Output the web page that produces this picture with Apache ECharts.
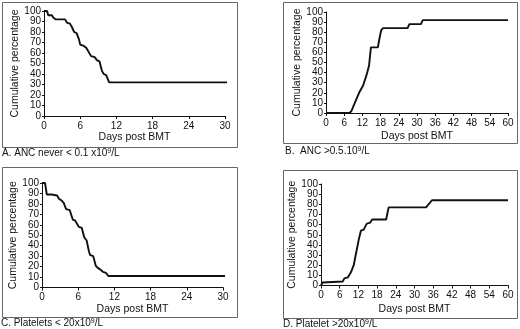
<!DOCTYPE html>
<html>
<head>
<meta charset="utf-8">
<script src="https://cdn.jsdelivr.net/npm/echarts@6/dist/echarts.min.js"></script>
<style>
html,body{margin:0;padding:0;background:#fff;}
#main{width:520px;height:329px;}
</style>
</head>
<body>
<div id="main"></div>
<script>
// curve vertices (days post BMT, cumulative %)
var daysA=[0,0.5,0.7,1.3,1.5,1.9,3.5,3.8,4.3,4.6,5.0,5.4,5.8,6.0,6.5,7.0,7.3,7.8,8.4,8.8,9.2,9.6,9.9,10.3,10.8,30.5];
var pctA =[100,100,96,96,94,92,92,89,88,85,80,79,73,68,67,65,64,57,56,53,52,43,40,39,32,32];

var daysB=[0,7.8,8.4,9.5,10.9,12.2,13.3,14.2,14.8,17.1,17.7,18.2,18.8,26.9,27.5,31.3,31.9,60];
var pctB =[0,0,2,10,20,27,37,47,65,65,75,82,84,84,88,88,92,92];

var daysC=[0,0.5,0.8,1.6,2.5,2.8,3.3,3.6,4.0,4.6,5.1,5.5,5.8,6.1,6.6,7.0,7.4,7.8,8.0,8.5,8.9,9.2,9.7,10.1,10.6,11.0,30.5];
var pctC =[100,100,89,89,88,85,83,81,75,74,65,64,61,58,57,48,45,34,31,30,21,19,17,15,14,11,11];

var daysD=[0,0.5,1.1,7.0,7.5,8.6,9.6,10.5,11.2,12.1,12.8,13.7,14.7,15.8,16.4,20.9,21.7,33.7,35.6,60];
var pctD =[0,3,4,4,7,8,13,20,31,45,54,55,61,62,65,65,77,77,84,84];

var xMaxShort=30, xMaxLong=60, xStep=6;
var yTitle='Cumulative percentage', xTitle='Days post BMT';
var captions=[
  ['A. ANC never < 0.1 x10','/L'],
  ['B.  ANC >0.5.10','/L'],
  ['C. Platelets < 20x10','/L'],
  ['D. Platelet >20x10','/L']
];

var FONT='"Liberation Sans", Arial, sans-serif';
var ink='#111';

function pairs(xs,ys){
  var out=[];
  for(var i=0;i<xs.length;i++){out.push([xs[i],ys[i]])}
  return out;
}

var grids=[
  {left:44,top:11,width:181,height:105},
  {left:326,top:12,width:182,height:101},
  {left:42,top:183,width:181,height:104.5},
  {left:321,top:184,width:187,height:101.5}
];
var xMaxes=[xMaxShort,xMaxLong,xMaxShort,xMaxLong];
var xGaps=[16,18,15,18];
var curves=[pairs(daysA,pctA),pairs(daysB,pctB),pairs(daysC,pctC),pairs(daysD,pctD)];

var xAxes=[],yAxes=[],series=[];
for(var g=0;g<4;g++){
  xAxes.push({
    gridIndex:g,type:'value',min:0,max:xMaxes[g],interval:xStep,
    name:xTitle,nameLocation:'middle',nameGap:xGaps[g],
    nameTextStyle:{fontFamily:FONT,fontSize:10.5,color:ink},
    axisLine:{show:true,lineStyle:{color:ink,width:1}},
    axisTick:{show:true,length:3,lineStyle:{color:ink}},
    axisLabel:{fontFamily:FONT,fontSize:10,color:ink,margin:5},
    splitLine:{show:false}
  });
  yAxes.push({
    gridIndex:g,type:'value',min:0,max:100,interval:10,
    name:yTitle,nameLocation:'middle',nameGap:23,nameRotate:90,
    nameTextStyle:{fontFamily:FONT,fontSize:10.5,color:ink},
    axisLine:{show:true,lineStyle:{color:ink,width:1}},
    axisTick:{show:true,length:2,lineStyle:{color:ink}},
    axisLabel:{fontFamily:FONT,fontSize:10,color:ink,margin:3},
    splitLine:{show:false}
  });
  series.push({
    type:'line',xAxisIndex:g,yAxisIndex:g,data:curves[g],
    showSymbol:false,animation:false,
    lineStyle:{color:'#111',width:1.9}
  });
}

var boxes=[[2,2,235,145],[283,2,234,141],[2,167,235,150],[283,170,234,148]];
var capPos=[[2,148],[285,146],[1,318],[283,319]];
var graphic=[];
for(var b=0;b<4;b++){
  graphic.push({
    type:'rect',silent:true,
    shape:{x:boxes[b][0]+0.5,y:boxes[b][1]+0.5,width:boxes[b][2],height:boxes[b][3]},
    style:{fill:'none',stroke:'#666',lineWidth:1}
  });
  graphic.push({
    type:'text',silent:true,left:capPos[b][0],top:capPos[b][1],
    style:{
      text:'{t|'+captions[b][0]+'}{s|9}{t|'+captions[b][1]+'}',
      fill:ink,
      rich:{
        t:{fontFamily:FONT,fontSize:10,fill:ink},
        s:{fontFamily:FONT,fontSize:7,fill:ink,verticalAlign:'top'}
      }
    }
  });
}

var chart=echarts.init(document.getElementById('main'),null,{renderer:'canvas'});
chart.setOption({
  backgroundColor:'#fff',
  animation:false,
  grid:grids,
  xAxis:xAxes,
  yAxis:yAxes,
  series:series,
  graphic:graphic
});
</script>
</body>
</html>
